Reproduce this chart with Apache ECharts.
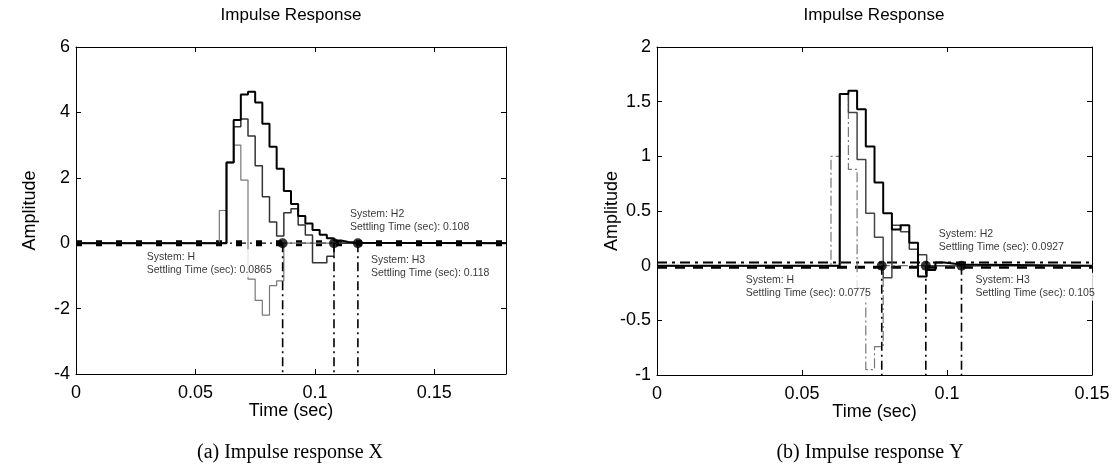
<!DOCTYPE html>
<html>
<head>
<meta charset="utf-8">
<script src="https://cdn.jsdelivr.net/npm/echarts@6/dist/echarts.min.js"></script>
<style>
  html, body { margin: 0; padding: 0; background: #fff; }
  #chart { width: 1117px; height: 473px; }
</style>
</head>
<body>
<div id="chart"></div>
<script>
// ---------- Impulse response X (left panel) ----------
const timeX = [0, 0.060, 0.063, 0.066, 0.069, 0.072, 0.075, 0.078, 0.081, 0.084, 0.087,
               0.090, 0.093, 0.096, 0.099, 0.102, 0.105, 0.108, 0.111, 0.114, 0.117, 0.120, 0.180];
const respX_H  = [0, 1.00, 2.47, 3.00, 1.93, -1.10, -1.75, -2.20, -1.30, -1.15, 0,
                  0, 0, 0, 0, 0, 0, 0, 0, 0, 0, 0, 0];
const respX_H2 = [0, 0, 2.47, 3.56, 3.80, 3.28, 2.37, 1.42, 0.65, 0.22, 0.93,
                  1.05, 0.56, 0.25, -0.60, -0.60, -0.40, 0, 0, 0, 0, 0, 0];
const respX_H3 = [0, 0, 2.47, 3.77, 4.55, 4.63, 4.30, 3.65, 2.95, 2.28, 1.60,
                  1.20, 0.83, 0.60, 0.40, 0.26, 0.15, 0.08, 0.04, 0.02, 0.01, 0, 0];
const settleX = [0.0865, 0.108, 0.118];

// ---------- Impulse response Y (right panel) ----------
const timeY = [0, 0.060, 0.063, 0.066, 0.069, 0.072, 0.075, 0.078, 0.081, 0.084, 0.087,
               0.090, 0.093, 0.096, 0.099, 0.102, 0.105, 0.150];
const respY_H  = [0, 1.00, 1.57, 0.88, -0.20, -0.95, -0.74, 0, 0, 0, 0, 0, 0, 0, 0, 0, 0, 0];
const respY_H2 = [0, 0, 1.57, 1.40, 0.97, 0.48, 0.26, -0.11, 0.37, 0.31, 0.15, 0.10, 0, 0, 0, 0, 0, 0];
const respY_H3 = [0, 0, 1.57, 1.60, 1.43, 1.09, 0.76, 0.48, 0.33, 0.37, 0.21, -0.10, -0.04, 0.03, 0.02, 0.01, 0, 0];
const settleY = [0.0775, 0.0927, 0.105];

const systems = ['H', 'H2', 'H3'];
const xTicksX = [0, 0.05, 0.1, 0.15];
const xTicksY = [0, 0.05, 0.1, 0.15];

// ---------- helpers ----------
const FONT = 'Liberation Sans, Arial, Helvetica, sans-serif';
const pairs = (t, v) => t.map((x, i) => [x, v[i]]);
const tickFmt = ticks => v => ticks.some(t => Math.abs(t - v) < 1e-9) ? String(+v.toFixed(2)) : '';

function bottomAxis(grid, max, ticks) {
  return {
    gridIndex: grid, type: 'value', min: 0, max: max, interval: 0.05, position: 'bottom',
    name: 'Time (sec)', nameLocation: 'middle', nameGap: 28, nameMoveOverlap: false,
    nameTextStyle: { fontSize: 18, color: '#000', fontFamily: FONT },
    axisLine: { onZero: false, lineStyle: { color: '#000', width: 1 } },
    axisTick: { inside: true, length: 5, lineStyle: { color: '#000' } },
    axisLabel: { fontSize: 18, color: '#000', fontFamily: FONT, margin: 10, formatter: tickFmt(ticks) },
    splitLine: { show: false }
  };
}
function topAxis(grid, max) {
  return {
    gridIndex: grid, type: 'value', min: 0, max: max, interval: 0.05, position: 'top',
    axisLine: { onZero: false, lineStyle: { color: '#000', width: 1 } },
    axisTick: { inside: true, length: 5, lineStyle: { color: '#000' } },
    axisLabel: { show: false }, splitLine: { show: false }
  };
}
function leftAxis(grid, min, max, step, gap) {
  return {
    gridIndex: grid, type: 'value', min: min, max: max, interval: step, position: 'left',
    name: 'Amplitude', nameLocation: 'middle', nameGap: gap, nameMoveOverlap: false,
    nameTextStyle: { fontSize: 18, color: '#000', fontFamily: FONT },
    axisLine: { onZero: false, lineStyle: { color: '#000', width: 1 } },
    axisTick: { inside: true, length: 5, lineStyle: { color: '#000' } },
    axisLabel: { fontSize: 18, color: '#000', fontFamily: FONT, margin: 6 },
    splitLine: { show: false }
  };
}
function rightAxis(grid, min, max, step) {
  return {
    gridIndex: grid, type: 'value', min: min, max: max, interval: step, position: 'right',
    axisLine: { onZero: false, lineStyle: { color: '#000', width: 1 } },
    axisTick: { inside: true, length: 5, lineStyle: { color: '#000' } },
    axisLabel: { show: false }, splitLine: { show: false }
  };
}

function stairs(name, xi, yi, data, color, width, type) {
  return {
    name: name, type: 'line', step: 'end', xAxisIndex: xi, yAxisIndex: yi,
    data: data, showSymbol: false, silent: true, animation: false,
    lineStyle: { color: color, width: width, type: type || 'solid' }, z: 3
  };
}
function baseline(xi, yi, max, level, width, type, color, z) {
  return {
    type: 'line', xAxisIndex: xi, yAxisIndex: yi, data: [[0, level], [max, level]],
    showSymbol: false, silent: true, animation: false,
    lineStyle: { color: color, width: width, type: type }, z: z
  };
}
function settleLines(xi, yi, times, yMin) {
  return times.map(t => ({
    type: 'line', xAxisIndex: xi, yAxisIndex: yi, data: [[t, 0], [t, yMin]],
    showSymbol: false, silent: true, animation: false,
    lineStyle: { color: '#000', width: 1.6, type: [9, 4, 2, 4] }, z: 4
  }));
}
function settleMarks(xi, yi, times, offsets) {
  return {
    type: 'scatter', xAxisIndex: xi, yAxisIndex: yi, symbolSize: 10, animation: false,
    itemStyle: { color: '#000' }, z: 6,
    data: times.map((t, i) => ({
      value: [t, 0],
      label: {
        show: true, position: 'inside', offset: offsets[i], align: 'left', verticalAlign: 'top',
        formatter: 'System: ' + systems[i] + '\nSettling Time (sec): ' + t,
        fontSize: 10.5, lineHeight: 13, color: '#000', fontFamily: FONT,
        backgroundColor: '#fff', padding: [1, 2]
      }
    }))
  };
}

const chart = echarts.init(document.getElementById('chart'), null, { renderer: 'canvas' });

const option = {
  backgroundColor: '#fff',
  animation: false,
  grid: [
    { left: 76, top: 47, width: 430, height: 327 },
    { left: 657, top: 47, width: 435, height: 328 }
  ],
  xAxis: [
    bottomAxis(0, 0.18, xTicksX), topAxis(0, 0.18),
    bottomAxis(1, 0.15, xTicksY), topAxis(1, 0.15)
  ],
  yAxis: [
    leftAxis(0, -4, 6, 2, 37), rightAxis(0, -4, 6, 2),
    leftAxis(1, -1, 2, 0.5, 36), rightAxis(1, -1, 2, 0.5)
  ],
  graphic: [
    { type: 'text', x: 291, y: 15, style: { text: 'Impulse Response', fill: '#000', font: '17px ' + FONT, align: 'center', verticalAlign: 'middle' } },
    { type: 'text', x: 874, y: 15, style: { text: 'Impulse Response', fill: '#000', font: '17px ' + FONT, align: 'center', verticalAlign: 'middle' } },
    { type: 'text', x: 290, y: 453, style: { text: '(a) Impulse response X', fill: '#000', font: '20px "Liberation Serif", "DejaVu Serif", serif', align: 'center', verticalAlign: 'middle' } },
    { type: 'text', x: 870, y: 453, style: { text: '(b) Impulse response Y', fill: '#000', font: '20px "Liberation Serif", "DejaVu Serif", serif', align: 'center', verticalAlign: 'middle' } }
  ],
  series: [
    // left panel
    baseline(0, 0, 0.18, 0, 6, [6, 14], '#000', 2),
    baseline(0, 0, 0.18, 0, 1.2, [10, 4, 2, 4], '#000', 2),
    stairs('H', 0, 0, pairs(timeX, respX_H), '#777', 1.2),
    stairs('H2', 0, 0, pairs(timeX, respX_H2), '#333', 1.5),
    stairs('H3', 0, 0, pairs(timeX, respX_H3), '#000', 2),
    ...settleLines(0, 0, settleX, -4),
    settleMarks(0, 0, settleX, [[-138, 6], [14, -37], [11, 9]]),
    // right panel
    baseline(2, 2, 0.15, 0.03, 2, [10, 5, 3, 5], '#000', 2),
    baseline(2, 2, 0.15, -0.015, 3, [10, 8], '#000', 2),
    stairs('H', 2, 2, pairs(timeY, respY_H), '#777', 1.2, [10, 3, 2, 3]),
    stairs('H2', 2, 2, pairs(timeY, respY_H2), '#444', 1.5),
    stairs('H3', 2, 2, pairs(timeY, respY_H3), '#000', 2),
    ...settleLines(2, 2, settleY, -1),
    settleMarks(2, 2, settleY, [[-138, 7], [11, -39], [12, 7]])
  ]
};
chart.setOption(option);
</script>
</body>
</html>
